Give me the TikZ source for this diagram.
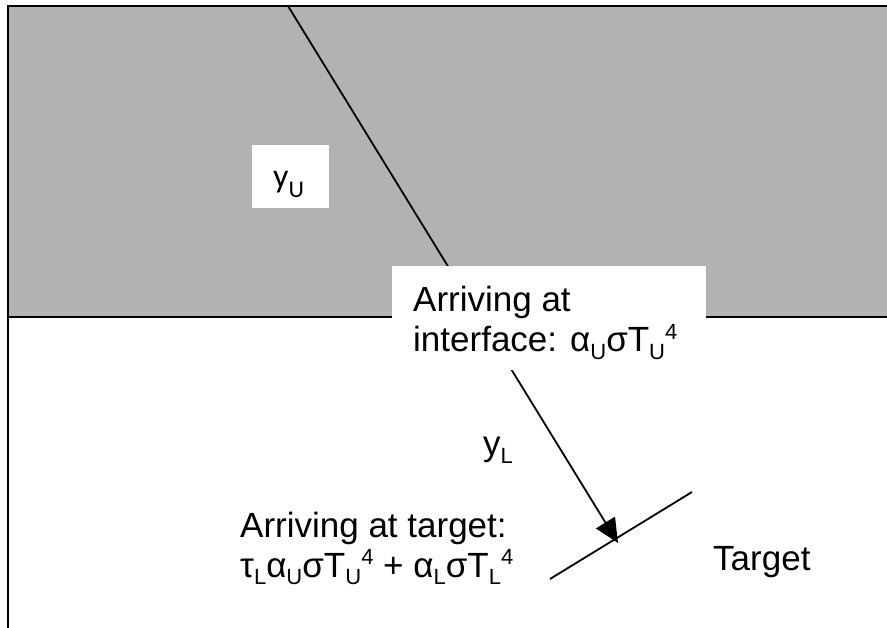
\documentclass[tikz,border=0pt]{standalone}
\usepackage{fontspec}
\setmainfont{Liberation Sans}
\newfontfamily\calfont{Carlito}
\usetikzlibrary{arrows.meta}
\definecolor{layergray}{RGB}{178,178,178}
\newcommand\lsub[1]{\raisebox{-0.22em}{\fontsize{22}{22}\selectfont #1}}
\newcommand\lsup[1]{\raisebox{0.36em}{\fontsize{22}{22}\selectfont #1}}
\begin{document}
\begin{tikzpicture}[x=1pt,y=-1pt,
  frame/.style={line width=2pt},
  ray/.style={line width=1.8pt},
  lbl/.style={inner sep=0pt, anchor=base west, font=\fontsize{35}{40}\selectfont},
  whitebox/.style={fill=white, draw=none, inner sep=0pt}]
\useasboundingbox (0,0) rectangle (887,628);
\clip (0,0) rectangle (887,628);
% upper layer
\fill[layergray] (8,6) rectangle (900,317);
\draw[frame] (900,6) -- (8,6) -- (8,640);
\draw[frame] (8,317) -- (900,317);
% ray
\coordinate (src) at (288,6);
\coordinate (tip) at (618,543);
\draw[ray, -{Triangle[length=24pt,width=22pt]}] (src) -- (tip);
% target surface
\coordinate (t1) at (550,579);
\coordinate (t2) at (692,492);
\draw[ray] (t1) -- (t2);
% white boxes
\node[whitebox, minimum width=77pt, minimum height=63pt] (yubox) at (290.5,176.5) {};
\node[inner sep=0pt, anchor=base west, font=\calfont\fontsize{34}{40}\selectfont] (yu) at (273,188) {y\raisebox{-10pt}{\fontsize{24}{24}\selectfont U}};
\node[whitebox, minimum width=314pt, minimum height=104pt] (iabox) at (549,318) {};
\node[lbl] (ia1) at (413,312) {Arriving at};
\node[lbl] (ia2) at (413,352) {interface: α\lsub{U}σT\lsub{U}\lsup{4}};
\node[lbl] (yl) at (483,456) {y\lsub{L}};
\node[lbl] (at1) at (240,537) {Arriving at target:};
\node[lbl] (at2) at (240,577) {τ\lsub{L}α\lsub{U}σT\lsub{U}\lsup{4} + α\lsub{L}σT\lsub{L}\lsup{4}};
\node[lbl] (tg) at (713,570) {Target};
\end{tikzpicture}
\end{document}
